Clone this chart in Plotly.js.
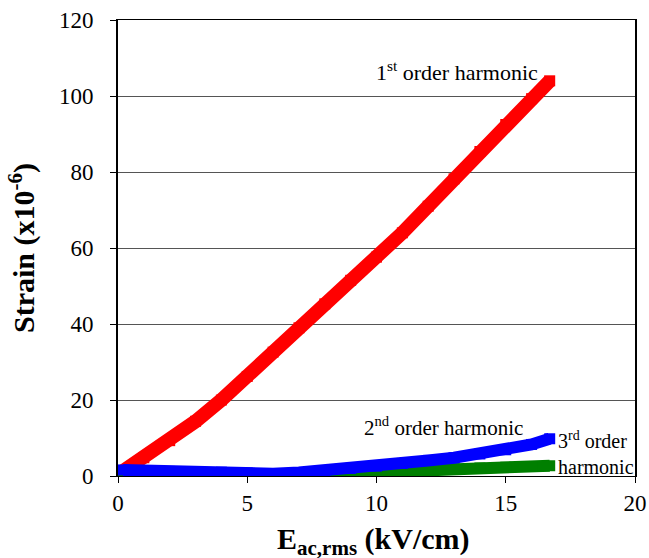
<!DOCTYPE html>
<html>
<head>
<meta charset="utf-8">
<script src="https://cdn.plot.ly/plotly-3.0.1.min.js"></script>
<style>html,body{margin:0;padding:0;background:#fff;}#chart{width:649px;height:558px;}</style>
</head>
<body>
<div id="chart"></div>
<script>
// Field E_ac,rms (kV/cm)
const fieldX = [0.2, 1, 2, 3, 4, 5, 6, 7, 8, 9, 10, 11, 12, 13, 14, 15, 16, 16.7];
// Strain (x10^-6)
const firstHarmonic  = [1.3, 4.8, 9.3, 14.4, 20, 26.2, 32.6, 39, 45.3, 51.5, 57.6, 64, 71, 78.2, 85.4, 92.5, 99.3, 104];
const secondHarmonic = [1.6, 1.4, 1.2, 1.1, 1.0, 0.8, 0.6, 0.9, 1.4, 2.0, 2.6, 3.3, 4.1, 4.8, 5.8, 6.9, 8.3, 9.8];
const thirdHarmonic  = [-0.3, -0.3, -0.3, -0.3, -0.2, -0.1, 0.0, 0.2, 0.4, 0.7, 1.0, 1.3, 1.6, 1.9, 2.1, 2.3, 2.5, 2.7];

const xTicks = [0, 5, 10, 15, 20];
const yTicks = [0, 20, 40, 60, 80, 100, 120];

const serif = '"Liberation Serif", "Times New Roman", Times, serif';

function series(y, color, lw) {
  return {
    x: fieldX, y: y, type: 'scatter', mode: 'lines+markers',
    line: {color: color, width: lw},
    marker: {symbol: 'square', size: 11, color: color},
    hoverinfo: 'x+y', showlegend: false
  };
}

const data = [
  series(firstHarmonic, '#FF0000', 14),
  series(thirdHarmonic, '#007F00', 12),
  series(secondHarmonic, '#0000FF', 12)
];

const layout = {
  width: 649, height: 558,
  margin: {l: 118, r: 14, t: 20, b: 82},
  paper_bgcolor: '#fff', plot_bgcolor: '#fff',
  font: {family: serif, color: '#000', size: 20},
  showlegend: false,
  xaxis: {
    range: [0, 20], tickvals: xTicks, ticktext: xTicks.map(String),
    ticks: 'outside', ticklen: 6, tickcolor: '#000', tickwidth: 1,
    showline: true, linecolor: '#000', linewidth: 1, mirror: true,
    showgrid: false, zeroline: false,
    tickfont: {family: serif, size: 23, color: '#000'}
  },
  yaxis: {
    range: [0, 120], tickvals: yTicks, ticktext: yTicks.map(String),
    ticks: 'outside', ticklen: 6, tickcolor: '#000', tickwidth: 1,
    showline: true, linecolor: '#000', linewidth: 2, mirror: true,
    showgrid: true, gridcolor: '#555', gridwidth: 1, zeroline: false,
    ticklabelstandoff: 12,
    tickfont: {family: serif, size: 23, color: '#000'},
    title: {text: '<b>Strain (x10<sup>-6</sup>)</b>', font: {family: serif, size: 30, color: '#000'}, standoff: 15}
  },
  annotations: [
    {x: 0.495, y: -0.097, xref: 'paper', yref: 'paper', xanchor: 'center', yanchor: 'top',
     text: '<b>E<sub>ac,rms</sub> (kV/cm)</b>', showarrow: false, font: {family: serif, size: 30, color: '#000'}},
    {x: 9.9, y: 106.5, xref: 'x', yref: 'y', xanchor: 'left', yanchor: 'middle',
     text: '1<sup>st</sup> order harmonic', showarrow: false, font: {family: serif, size: 22, color: '#000'}},
    {x: 9.45, y: 13, xref: 'x', yref: 'y', xanchor: 'left', yanchor: 'middle',
     text: '2<sup>nd</sup> order harmonic', showarrow: false, font: {family: serif, size: 21, color: '#000'}},
    {x: 16.95, y: 9.5, xref: 'x', yref: 'y', xanchor: 'left', yanchor: 'middle',
     text: '3<sup>rd</sup> order', showarrow: false, font: {family: serif, size: 20, color: '#000'}},
    {x: 16.95, y: 2.5, xref: 'x', yref: 'y', xanchor: 'left', yanchor: 'middle',
     text: 'harmonic', showarrow: false, font: {family: serif, size: 20, color: '#000'}}
  ]
};

Plotly.newPlot('chart', data, layout, {displayModeBar: false, staticPlot: true});
</script>
</body>
</html>
